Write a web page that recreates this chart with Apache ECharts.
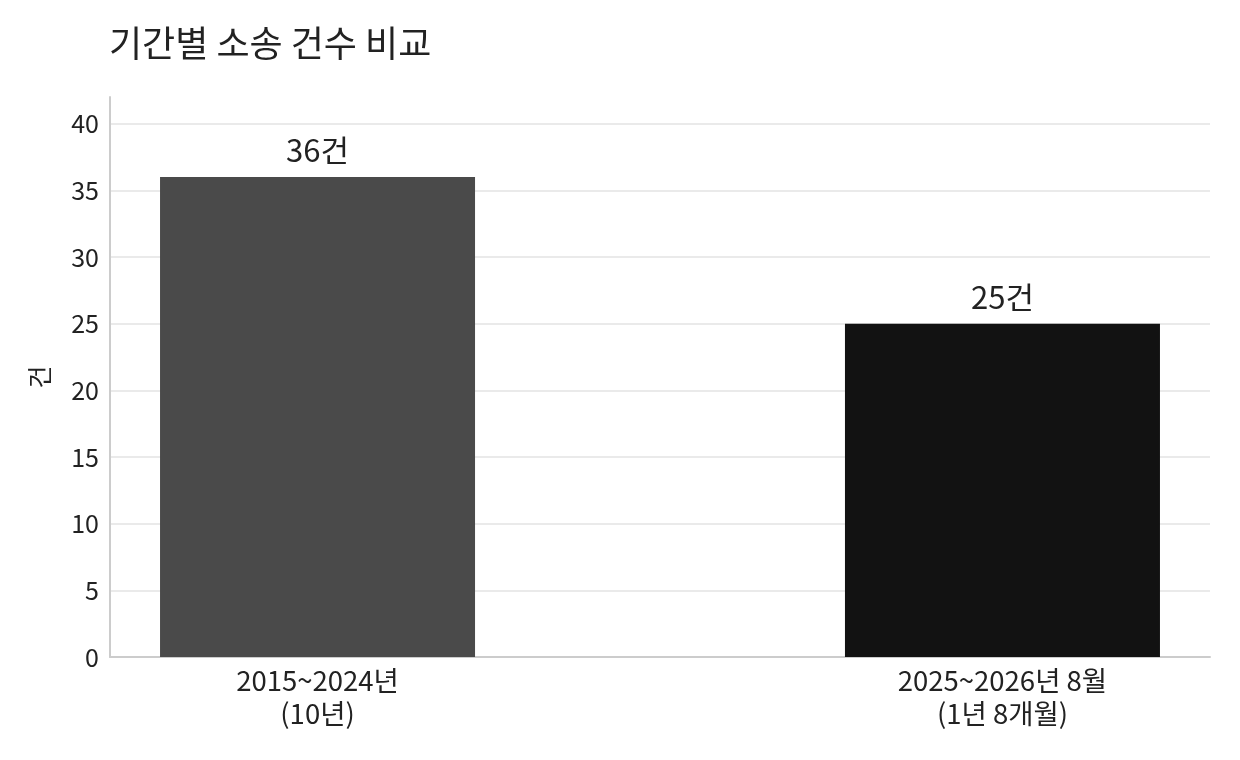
<!DOCTYPE html>
<html>
<head>
    <meta charset="UTF-8">
    <title>기간별 소송 건수 비교</title>
    <script src="https://cdn.jsdelivr.net/npm/echarts@6/dist/echarts.min.js"></script>
    <style>
        body {
            margin: 0;
            padding: 0;
            background-color: #fff;
        }
    </style>
</head>
<body>
<div id="chart" style="width:1240px; height:760px;"></div>

<script>
    var categories = ['2015~2024년\n(10년)', '2025~2026년 8월\n(1년 8개월)'];
    var counts = [36, 25];
    var barColors = ['#4a4a4a', '#121212'];

    var font = '"Noto Sans CJK KR", "Noto Sans", sans-serif';
    var chart = echarts.init(document.getElementById('chart'), null, {renderer: 'canvas'});

    // bars sit at x = 0 and 1, with a little padding either side (like matplotlib)
    var positions = categories.map(function (c, i) { return i; });

    chart.setOption({
        animation: false,
        textStyle: {fontFamily: font},
        title: {
            text: '기간별 소송 건수 비교',
            left: 104,
            top: 20,
            textStyle: {fontFamily: font, fontSize: 36, fontWeight: 'normal', color: '#222'}
        },
        grid: {left: 110, right: 30, top: 97, bottom: 103},
        xAxis: {
            type: 'value',
            min: -0.303,
            max: 1.303,
            axisLine: {show: true, onZero: false, lineStyle: {color: '#cccccc', width: 2}},
            axisTick: {show: false},
            splitLine: {show: false},
            axisLabel: {
                customValues: positions,
                fontFamily: font, fontSize: 27.5, color: '#222', lineHeight: 33, margin: 7,
                formatter: function (v) { return categories[Math.round(v)]; }
            }
        },
        yAxis: {
            type: 'value',
            min: 0,
            max: 42,
            interval: 5,
            name: '건',
            nameLocation: 'middle',
            nameGap: 58,
            nameTextStyle: {fontFamily: font, fontSize: 25, color: '#222'},
            axisLine: {show: true, onZero: false, lineStyle: {color: '#cccccc', width: 2}},
            axisTick: {show: false},
            axisLabel: {fontFamily: font, fontSize: 25, color: '#222', margin: 11,
                formatter: function (v) { return v % 5 === 0 ? v : ''; }},
            splitLine: {showMaxLine: false, lineStyle: {color: '#e3e3e3', width: 1.5}}
        },
        series: [{
            type: 'bar',
            barWidth: 315,
            data: counts.map(function (v, i) {
                return {value: [positions[i], v], itemStyle: {color: barColors[i]}};
            }),
            label: {
                show: true,
                position: 'top',
                distance: 11,
                fontFamily: font,
                fontSize: 31,
                color: '#222',
                formatter: function (p) { return p.value[1] + '건'; }
            }
        }]
    });
</script>
</body>
</html>
